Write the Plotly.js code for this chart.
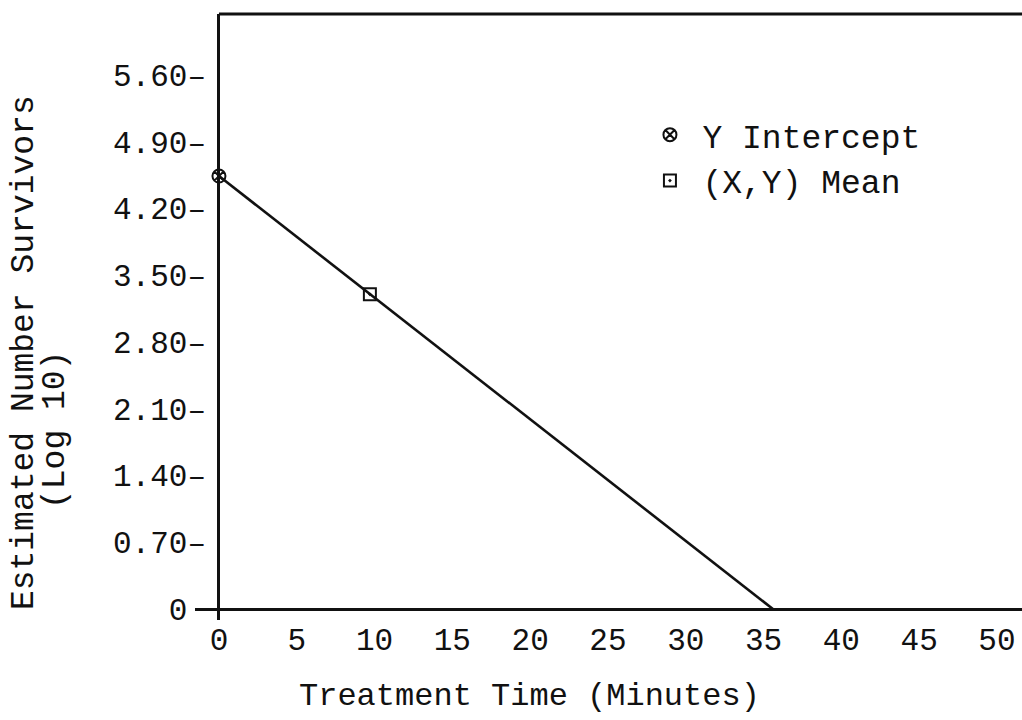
<!DOCTYPE html>
<html>
<head>
<meta charset="utf-8">
<script src="https://cdn.plot.ly/plotly-3.0.1.min.js"></script>
<style>html,body{margin:0;padding:0;background:#fff;}#chart{width:1022px;height:720px;}</style>
</head>
<body>
<div id="chart"></div>
<script>
// ---- data ----
var lineX = [0, 35.6];          // fitted survivor line (minutes)
var lineY = [4.54, 0];          // log10 survivors
var interceptX = [0];
var interceptY = [4.54];
var meanX = [9.7];
var meanY = [3.3];
var xTickVals = [0, 5, 10, 15, 20, 25, 30, 35, 40, 45, 50];
var xTickText = ['0', '5', '10', '15', '20', '25', '30', '35', '40', '45', '50'];
var yTickVals = [0, 0.7, 1.4, 2.1, 2.8, 3.5, 4.2, 4.9, 5.6];
var yTickText = ['0\u00a0', '0.70\u2013', '1.40\u2013', '2.10\u2013', '2.80\u2013', '3.50\u2013', '4.20\u2013', '4.90\u2013', '5.60\u2013'];
var xTitle = 'Treatment Time (Minutes)';
var yTitle1 = 'Estimated Number Survivors';
var yTitle2 = '(Log 10)';
var legendNames = ['Y Intercept', '(X,Y) Mean'];

var FONT = 'Liberation Mono, Courier New, monospace';
var INK = '#111';
var xRange = [-1.54, 51.61];
var yRange = [-0.115, 6.239];

var traces = [
  {x: lineX, y: lineY, type: 'scatter', mode: 'lines',
   line: {color: INK, width: 2.6}, showlegend: false, hoverinfo: 'skip'},
  {x: interceptX, y: interceptY, type: 'scatter', mode: 'markers', name: legendNames[0],
   marker: {symbol: 'circle-x-open', size: 13, color: INK, line: {width: 2, color: INK}},
   cliponaxis: false},
  {x: meanX, y: meanY, type: 'scatter', mode: 'markers', name: legendNames[1],
   marker: {symbol: 'square-open-dot', size: 12, color: INK, line: {width: 2, color: INK}},
   cliponaxis: false}
];

var layout = {
  width: 1022, height: 720,
  margin: {l: 195, r: 0, t: 14, b: 100, pad: 0},
  paper_bgcolor: '#fff', plot_bgcolor: '#fff',
  font: {family: FONT, size: 32, color: INK},
  showlegend: true,
  legend: {x: 0.535, y: 0.847, xanchor: 'left', yanchor: 'top', bgcolor: 'rgba(0,0,0,0)',
           itemwidth: 55,
           font: {family: FONT, size: 33, color: INK}, tracegroupgap: 0},
  xaxis: {range: xRange, showgrid: false, showline: false,
          zeroline: true, zerolinecolor: INK, zerolinewidth: 3,
          tickmode: 'array', tickvals: xTickVals, ticktext: xTickText, ticks: '',
          tickfont: {family: FONT, size: 31, color: INK}, ticklabelstandoff: -2},
  yaxis: {range: yRange, showgrid: false, showline: false,
          zeroline: true, zerolinecolor: INK, zerolinewidth: 3,
          tickmode: 'array', tickvals: yTickVals, ticktext: yTickText, ticks: '',
          tickfont: {family: FONT, size: 31, color: INK}, ticklabelstandoff: -12},
  shapes: [
    {type: 'line', xref: 'x', yref: 'paper', x0: 0, x1: xRange[1], y0: 1, y1: 1,
     line: {color: INK, width: 3}}
  ],
  annotations: [
    {text: xTitle, xref: 'paper', yref: 'paper', x: 0.405, y: -0.127,
     xanchor: 'center', yanchor: 'middle', showarrow: false, font: {family: FONT, size: 32, color: INK}},
    {text: yTitle1, xref: 'paper', yref: 'paper', x: -0.2068, y: 0.442, textangle: -90,
     xanchor: 'center', yanchor: 'middle', showarrow: false, font: {family: FONT, size: 33, color: INK}},
    {text: yTitle2, xref: 'paper', yref: 'paper', x: -0.1693, y: 0.3135, textangle: -90,
     xanchor: 'center', yanchor: 'middle', showarrow: false, font: {family: FONT, size: 33, color: INK}}
  ]
};

Plotly.newPlot('chart', traces, layout, {displayModeBar: false, staticPlot: true});
</script>
</body>
</html>
